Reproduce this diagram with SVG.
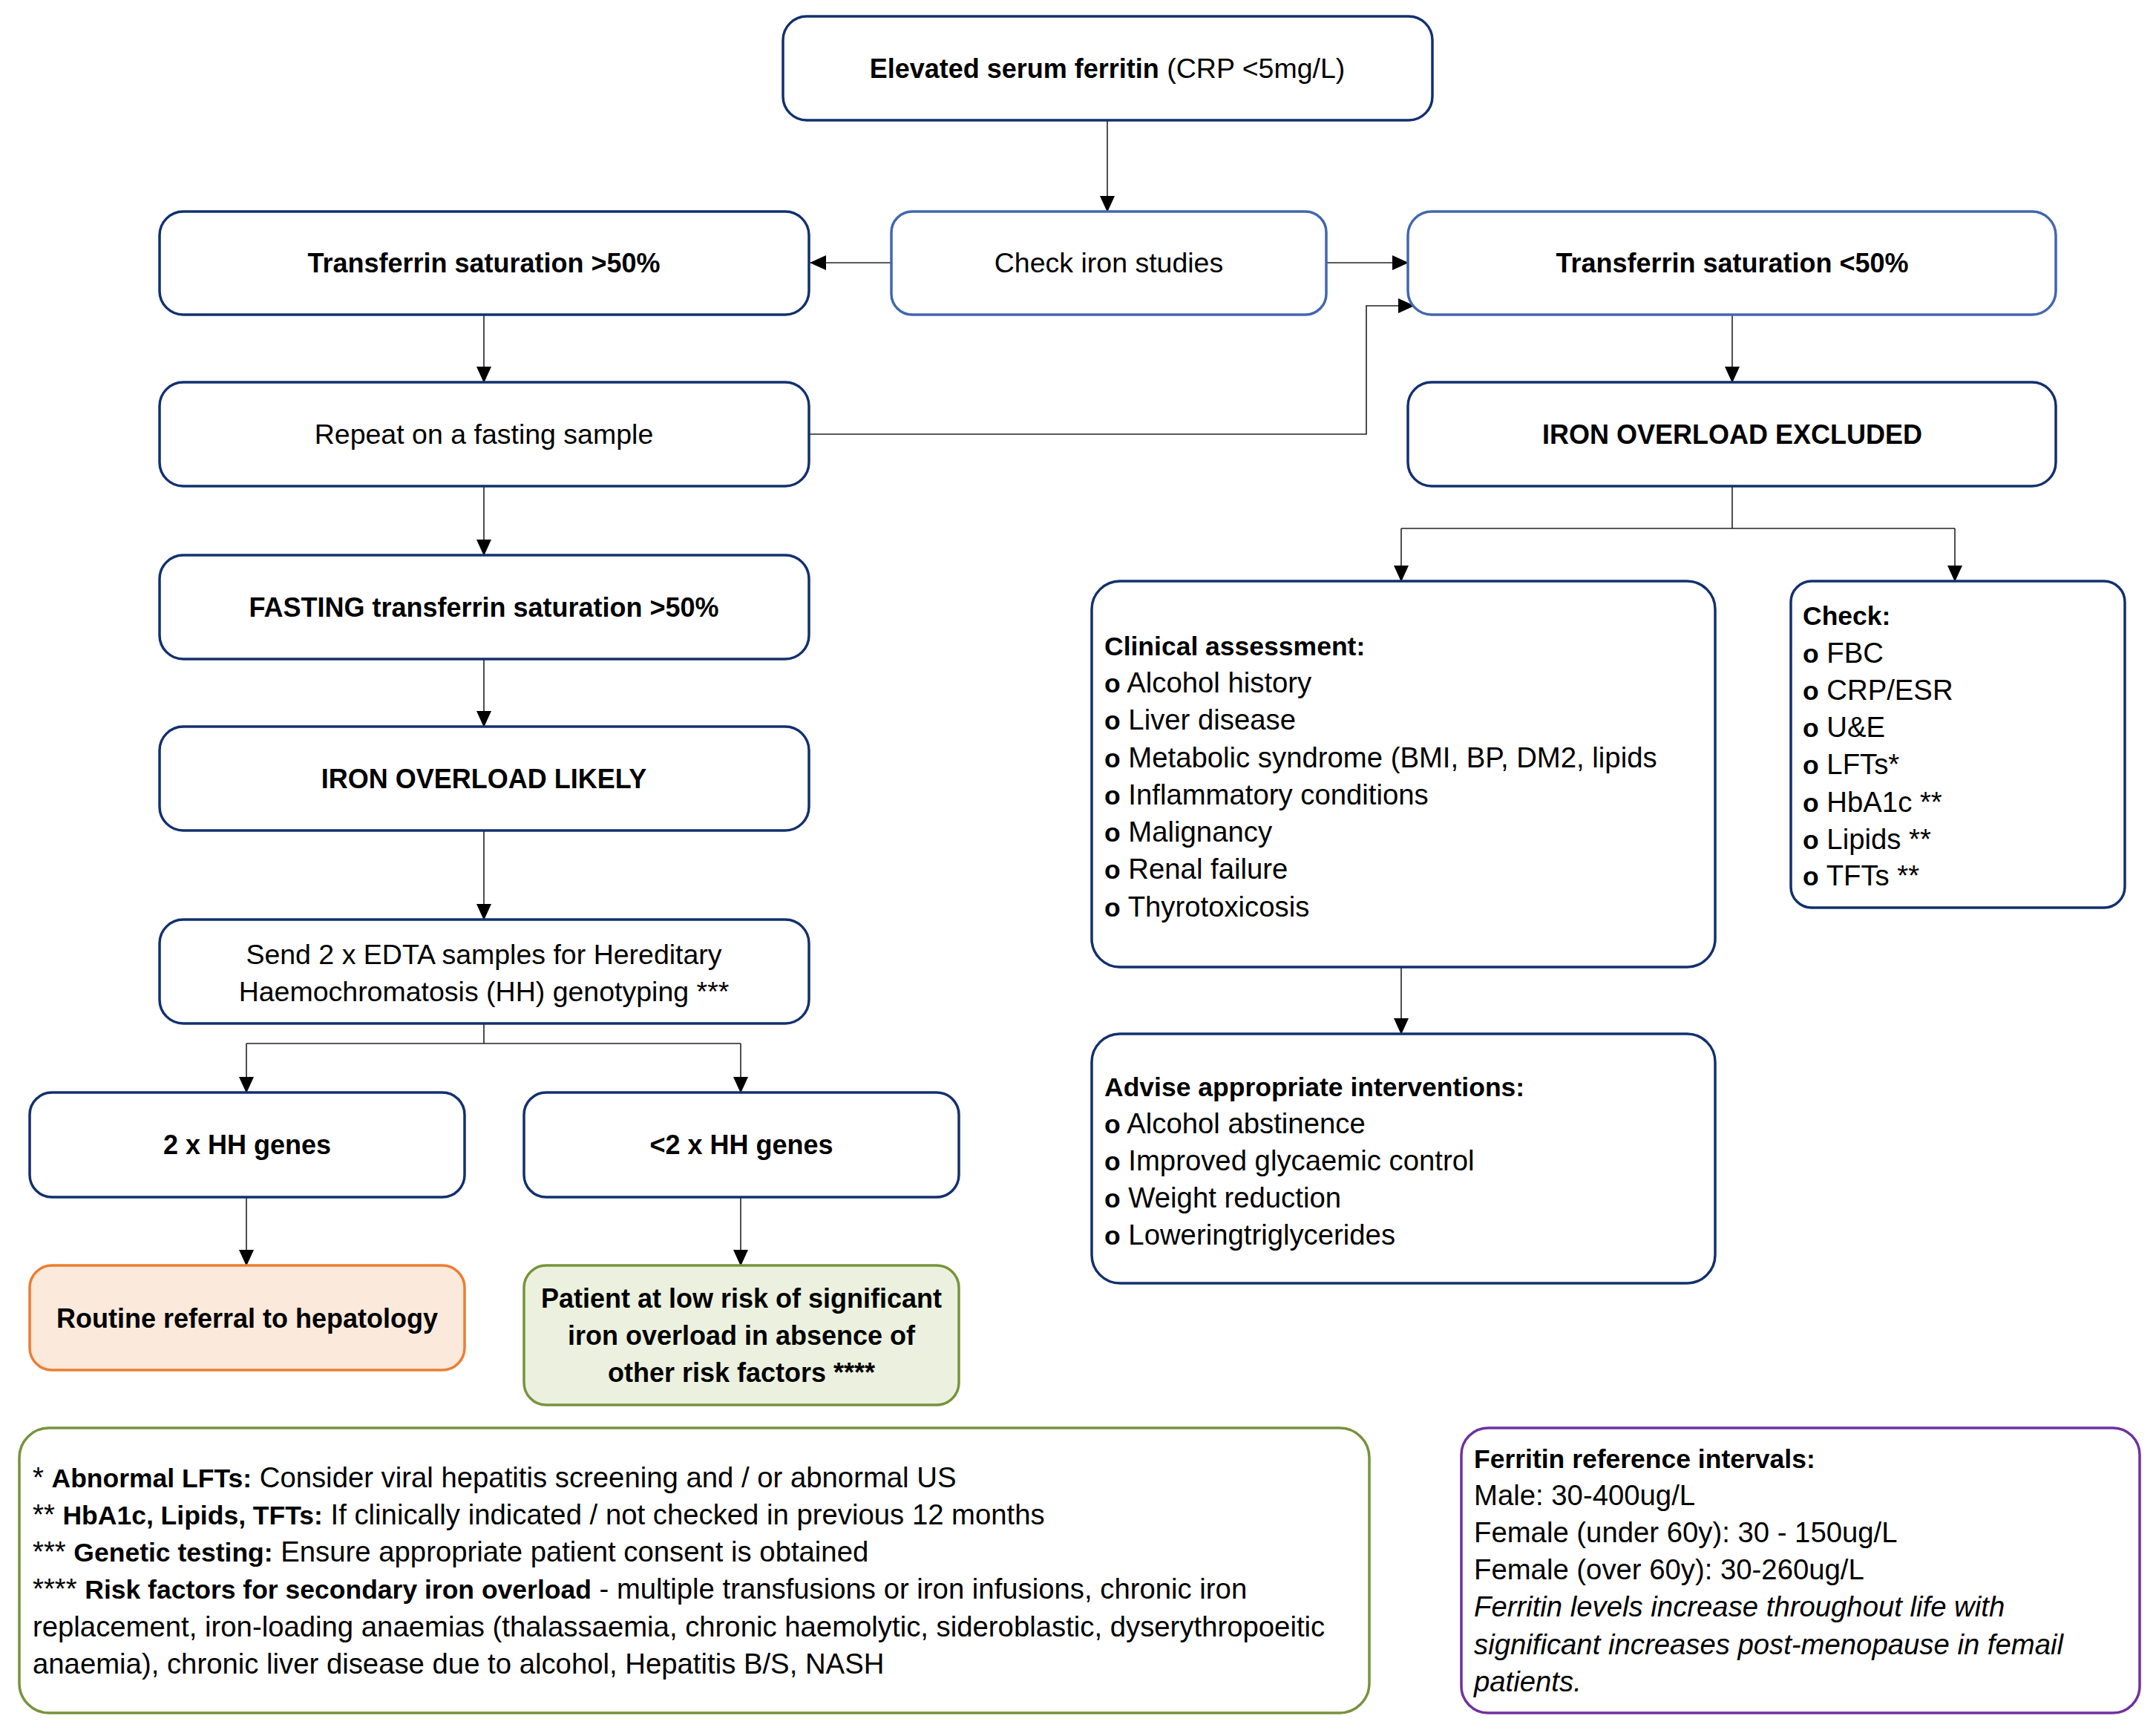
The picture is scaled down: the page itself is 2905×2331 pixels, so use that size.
<svg xmlns="http://www.w3.org/2000/svg" width="2905" height="2331" viewBox="0 0 2905 2331">
<style>
  .n { fill:#ffffff; stroke:#13306E; stroke-width:3.5; }
  .nl { fill:#ffffff; stroke:#4266B0; stroke-width:3.5; }
  .or { fill:#FBE9DB; stroke:#ED7D31; stroke-width:3.5; }
  .gr { fill:#EBF1DE; stroke:#77933C; stroke-width:3.5; }
  .fg { fill:#ffffff; stroke:#77933C; stroke-width:3.5; }
  .pu { fill:#ffffff; stroke:#7030A0; stroke-width:3.5; }
  text { font-family:"Liberation Sans", Arial, sans-serif; font-size:37.5px; fill:#000; }
  .l text { font-size:38.3px; }
  .c { text-anchor:middle; }
  .b { font-weight:bold; font-size:36px; }
  .l .b { font-size:35.5px; }
  .i { font-style:italic; }
  .con { fill:none; stroke:#222; stroke-width:1.6; marker-end:url(#ah); }
  .ln { fill:none; stroke:#222; stroke-width:1.6; }
</style>
<defs>
  <marker id="ah" markerWidth="22" markerHeight="20" refX="21" refY="10" orient="auto" markerUnits="userSpaceOnUse">
    <path d="M0,0 L22,10 L0,20 Z" fill="#000"/>
  </marker>
</defs>
<rect width="2905" height="2331" fill="#ffffff"/>

<g id="connectors">
  <path class="con" d="M1492,162 V285"/>
  <path class="con" d="M1201,354 H1092"/>
  <path class="con" d="M1787,354 H1897"/>
  <path class="con" d="M1090,585 H1841 V412 H1905"/>
  <path class="con" d="M652,424 V515"/>
  <path class="con" d="M652,655 V748"/>
  <path class="con" d="M652,888 V979"/>
  <path class="con" d="M652,1119 V1239"/>
  <path class="ln" d="M652,1379 V1406 H332 M652,1406 H998"/>
  <path class="con" d="M332,1406 V1472"/>
  <path class="con" d="M998,1406 V1472"/>
  <path class="con" d="M332,1613 V1705"/>
  <path class="con" d="M998,1613 V1705"/>
  <path class="con" d="M2334,424 V515"/>
  <path class="ln" d="M2334,655 V712 H1888 M2334,712 H2634"/>
  <path class="con" d="M1888,712 V783"/>
  <path class="con" d="M2634,712 V783"/>
  <path class="con" d="M1888,1303 V1393"/>
</g>

<g id="n-elevated">
  <rect class="n" x="1055" y="22" width="875" height="140" rx="32"/>
  <text class="c" x="1492" y="105"><tspan font-weight="bold" font-size="36">Elevated serum ferritin</tspan> (CRP &lt;5mg/L)</text>
</g>
<g id="n-check-iron">
  <rect class="nl" x="1201" y="285" width="586" height="139" rx="28"/>
  <text class="c" x="1494" y="367">Check iron studies</text>
</g>
<g id="n-ts-high">
  <rect class="n" x="215" y="285" width="875" height="139" rx="32"/>
  <text class="c b" x="652" y="367">Transferrin saturation &gt;50%</text>
</g>
<g id="n-ts-low">
  <rect class="nl" x="1897" y="285" width="873" height="139" rx="32"/>
  <text class="c b" x="2334" y="367">Transferrin saturation &lt;50%</text>
</g>
<g id="n-repeat">
  <rect class="n" x="215" y="515" width="875" height="140" rx="32"/>
  <text class="c" x="652" y="598">Repeat on a fasting sample</text>
</g>
<g id="n-excluded">
  <rect class="n" x="1897" y="515" width="873" height="140" rx="32"/>
  <text class="c b" x="2334" y="598">IRON OVERLOAD EXCLUDED</text>
</g>
<g id="n-fasting">
  <rect class="n" x="215" y="748" width="875" height="140" rx="32"/>
  <text class="c b" x="652" y="831">FASTING transferrin saturation &gt;50%</text>
</g>
<g id="n-likely">
  <rect class="n" x="215" y="979" width="875" height="140" rx="32"/>
  <text class="c b" x="652" y="1062">IRON OVERLOAD LIKELY</text>
</g>
<g id="n-send">
  <rect class="n" x="215" y="1239" width="875" height="140" rx="32"/>
  <text class="c" x="652" y="1299">Send 2 x EDTA samples for Hereditary</text>
  <text class="c" x="652" y="1349">Haemochromatosis (HH) genotyping ***</text>
</g>
<g id="n-2hh">
  <rect class="n" x="40" y="1472" width="586" height="141" rx="30"/>
  <text class="c b" x="333" y="1555">2 x HH genes</text>
</g>
<g id="n-lt2hh">
  <rect class="n" x="706" y="1472" width="586" height="141" rx="30"/>
  <text class="c b" x="999" y="1555">&lt;2 x HH genes</text>
</g>
<g id="n-routine">
  <rect class="or" x="40" y="1705" width="586" height="141" rx="30"/>
  <text class="c b" x="333" y="1789">Routine referral to hepatology</text>
</g>
<g id="n-lowrisk">
  <rect class="gr" x="706" y="1705" width="586" height="188" rx="30"/>
  <text class="c b" x="999" y="1762">Patient at low risk of significant</text>
  <text class="c b" x="999" y="1812">iron overload in absence of</text>
  <text class="c b" x="999" y="1862">other risk factors ****</text>
</g>
<g id="n-clinical" class="l">
  <rect class="n" x="1471" y="783" width="840" height="520" rx="38"/>
  <text x="1488" y="883" class="b">Clinical assessment:</text>
  <text x="1488" y="933"><tspan class="b">o</tspan> Alcohol history</text>
  <text x="1488" y="983"><tspan class="b">o</tspan> Liver disease</text>
  <text x="1488" y="1034"><tspan class="b">o</tspan> Metabolic syndrome (BMI, BP, DM2, lipids</text>
  <text x="1488" y="1084"><tspan class="b">o</tspan> Inflammatory conditions</text>
  <text x="1488" y="1134"><tspan class="b">o</tspan> Malignancy</text>
  <text x="1488" y="1184"><tspan class="b">o</tspan> Renal failure</text>
  <text x="1488" y="1235"><tspan class="b">o</tspan> Thyrotoxicosis</text>
</g>
<g id="n-check" class="l">
  <rect class="n" x="2413" y="783" width="450" height="440" rx="28"/>
  <text x="2429" y="842" class="b">Check:</text>
  <text x="2429" y="893"><tspan class="b">o</tspan> FBC</text>
  <text x="2429" y="943"><tspan class="b">o</tspan> CRP/ESR</text>
  <text x="2429" y="993"><tspan class="b">o</tspan> U&amp;E</text>
  <text x="2429" y="1043"><tspan class="b">o</tspan> LFTs*</text>
  <text x="2429" y="1094"><tspan class="b">o</tspan> HbA1c **</text>
  <text x="2429" y="1144"><tspan class="b">o</tspan> Lipids **</text>
  <text x="2429" y="1193"><tspan class="b">o</tspan> TFTs **</text>
</g>
<g id="n-advise" class="l">
  <rect class="n" x="1471" y="1393" width="840" height="336" rx="38"/>
  <text x="1488" y="1477" class="b">Advise appropriate interventions:</text>
  <text x="1488" y="1527"><tspan class="b">o</tspan> Alcohol abstinence</text>
  <text x="1488" y="1577"><tspan class="b">o</tspan> Improved glycaemic control</text>
  <text x="1488" y="1627"><tspan class="b">o</tspan> Weight reduction</text>
  <text x="1488" y="1677"><tspan class="b">o</tspan> Loweringtriglycerides</text>
</g>
<g id="n-footnotes" class="l">
  <rect class="fg" x="26" y="1924" width="1819" height="384" rx="40"/>
  <text x="44" y="2004">* <tspan class="b">Abnormal LFTs:</tspan> Consider viral hepatitis screening and / or abnormal US</text>
  <text x="44" y="2054">** <tspan class="b">HbA1c, Lipids, TFTs:</tspan> If clinically indicated / not checked in previous 12 months</text>
  <text x="44" y="2104">*** <tspan class="b">Genetic testing:</tspan> Ensure appropriate patient consent is obtained</text>
  <text x="44" y="2154">**** <tspan class="b">Risk factors for secondary iron overload</tspan> - multiple transfusions or iron infusions, chronic iron</text>
  <text x="44" y="2205">replacement, iron-loading anaemias (thalassaemia, chronic haemolytic, sideroblastic, dyserythropoeitic</text>
  <text x="44" y="2255">anaemia), chronic liver disease due to alcohol, Hepatitis B/S, NASH</text>
</g>
<g id="n-ferritin-ref" class="l">
  <rect class="pu" x="1969" y="1924" width="914" height="384" rx="36"/>
  <text x="1986" y="1978" class="b">Ferritin reference intervals:</text>
  <text x="1986" y="2028">Male: 30-400ug/L</text>
  <text x="1986" y="2078">Female (under 60y): 30 - 150ug/L</text>
  <text x="1986" y="2128">Female (over 60y): 30-260ug/L</text>
  <text x="1986" y="2178" class="i">Ferritin levels increase throughout life with</text>
  <text x="1986" y="2229" class="i">significant increases post-menopause in femail</text>
  <text x="1986" y="2279" class="i">patients.</text>
</g>
</svg>
